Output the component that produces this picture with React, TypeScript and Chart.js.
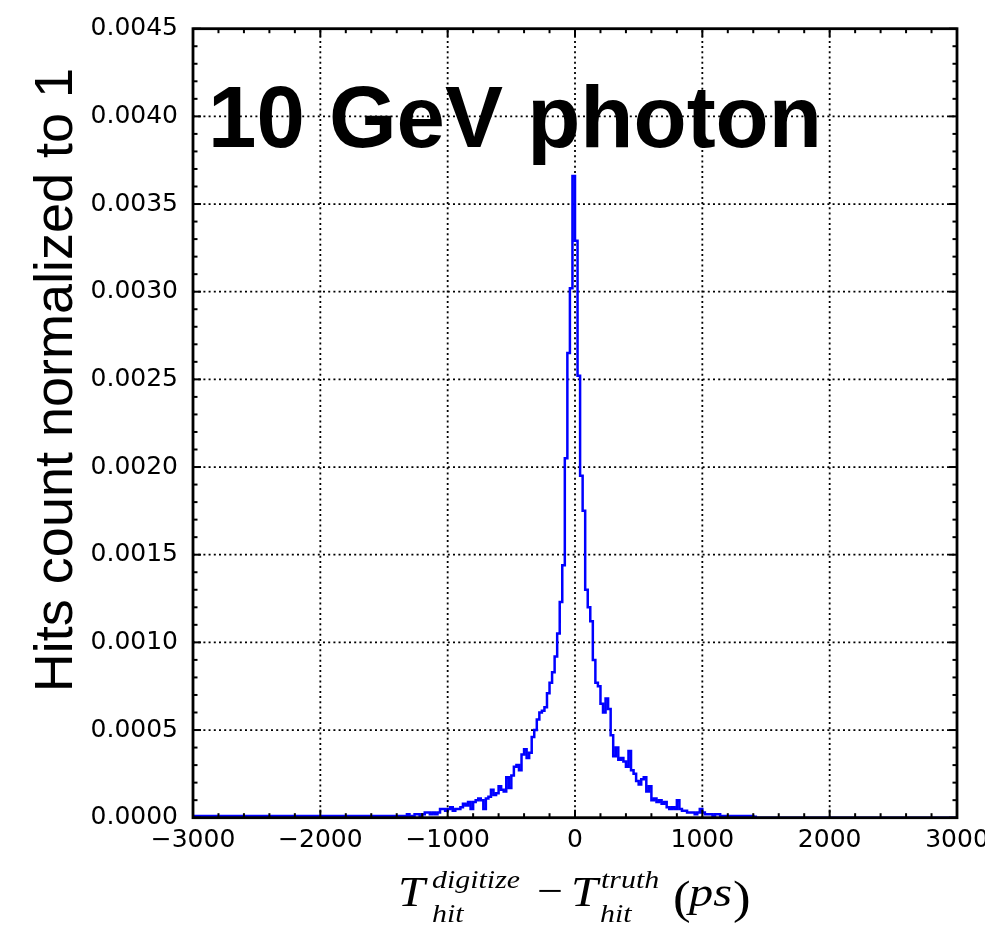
import React, { useEffect, useRef } from 'react';
import { Chart, registerables } from 'chart.js';

Chart.register(...registerables);

// ---- data (20 ps bins, density normalised) ----
const binWidth = 20;
const firstBinEdge = -1380;
// bins from -1380 to 0 (left edge)
const leftCounts = [
  0.00001, 0.00001, 0.00001, 0.00001, 0.00002, 0.00001, 0.00001, 0.00002, 0.00002, 0.00001,
  0.00002, 0.00003, 0.00003, 0.00002, 0.00003, 0.00002, 0.00003, 0.00005, 0.00005, 0.00004,
  0.00005, 0.00006, 0.00004, 0.00005, 0.00005, 0.00006, 0.00008, 0.00007, 0.00009, 0.00005,
  0.00009, 0.0001, 0.00011, 0.0001, 0.00005, 0.00011, 0.00012, 0.00016, 0.00013, 0.00014,
  0.00018, 0.00016, 0.00015, 0.00023, 0.00017, 0.00024, 0.00029, 0.0003, 0.00027, 0.00036,
  0.00039, 0.00034, 0.00037, 0.00046, 0.0005, 0.00056, 0.0006, 0.00061, 0.00063, 0.00071,
  0.00077, 0.00083, 0.00092, 0.00105, 0.00123, 0.00144, 0.00205, 0.00265, 0.00302, 0.00366,
];
// bins from 20 to 1420 (left edge)
const rightCounts = [
  0.00329, 0.00252, 0.00195, 0.00175, 0.0013, 0.0012, 0.00112, 0.0009, 0.00077, 0.00075,
  0.00065, 0.0006, 0.00068, 0.00062, 0.00047, 0.00035, 0.0004, 0.00033, 0.00034, 0.00032,
  0.00029, 0.00038, 0.00027, 0.00025, 0.00021, 0.00019, 0.00022, 0.00023, 0.00015, 0.00018,
  0.0001, 0.00011, 0.00009, 0.0001, 0.00008, 0.00009, 0.00006, 0.00005, 0.00006, 0.00005,
  0.0001, 0.00005, 0.00004, 0.00004, 0.00003, 0.00003, 0.00003, 0.00002, 0.00003, 0.00005,
  0.00003, 0.00002, 0.00002, 0.00002, 0.00001, 0.00002, 0.00002, 0.00001, 0.00001, 0.00001,
  0.00001, 0.00001, 0.00001, 0.00001, 0.00001, 0.00001, 0.00001, 0.00001, 0.00001, 0.00001,
  0.000005,
];

const xRange = [-3000, 3000];
const yRange = [0, 0.0045];
const xMajorStep = 1000;
const xMinorStep = 200;
const yMajorStep = 0.0005;
const yMinorStep = 0.0001;

const yTitle = 'Hits count normalized to 1';
const annotation = '10 GeV photon';

const fmtX = (v: number) => (v < 0 ? '\u2212' + Math.abs(v) : String(v));
const fmtY = (v: number) => v.toFixed(4);

function buildPoints() {
  const counts = [...leftCounts, ...rightCounts];
  const pts: { x: number; y: number }[] = [{ x: xRange[0], y: 0 }];
  counts.forEach((c, i) => pts.push({ x: firstBinEdge + i * binWidth, y: c }));
  pts.push({ x: firstBinEdge + counts.length * binWidth, y: 0 });
  pts.push({ x: xRange[1], y: 0 });
  return pts;
}

function range(a: number, b: number, step: number) {
  const out: number[] = [];
  const n = Math.round((b - a) / step);
  for (let i = 0; i <= n; i++) out.push(a + i * step);
  return out;
}

const framePlugin = {
  id: 'mplFrame',
  beforeDatasetsDraw(chart: any) {
    const { ctx, chartArea: a, scales } = chart;
    const x = scales.x, y = scales.y;
    ctx.save();
    ctx.strokeStyle = '#000';
    ctx.lineWidth = 1.8;
    ctx.setLineDash([2, 3.2]);
    range(xRange[0], xRange[1], xMajorStep).slice(1, -1).forEach((v) => {
      const px = x.getPixelForValue(v);
      ctx.beginPath(); ctx.moveTo(px, a.bottom); ctx.lineTo(px, a.top); ctx.stroke();
    });
    range(yRange[0], yRange[1], yMajorStep).slice(1, -1).forEach((v) => {
      const py = y.getPixelForValue(v);
      ctx.beginPath(); ctx.moveTo(a.left, py); ctx.lineTo(a.right, py); ctx.stroke();
    });
    ctx.restore();
  },
  afterDatasetsDraw(chart: any) {
    const { ctx, chartArea: a, scales } = chart;
    const x = scales.x, y = scales.y;
    ctx.save();
    ctx.strokeStyle = '#000';
    ctx.setLineDash([]);
    ctx.lineWidth = 2;
    const tick = (x1: number, y1: number, x2: number, y2: number) => {
      ctx.beginPath(); ctx.moveTo(x1, y1); ctx.lineTo(x2, y2); ctx.stroke();
    };
    range(xRange[0], xRange[1], xMinorStep).forEach((v) => {
      const major = Math.abs(v % xMajorStep) < 1e-9;
      const L = major ? 8 : 4.5;
      const px = x.getPixelForValue(v);
      tick(px, a.bottom, px, a.bottom - L);
      tick(px, a.top, px, a.top + L);
    });
    range(yRange[0], yRange[1], yMinorStep).forEach((v, i) => {
      const major = i % 5 === 0;
      const L = major ? 8 : 4.5;
      const py = y.getPixelForValue(v);
      tick(a.left, py, a.left + L, py);
      tick(a.right, py, a.right - L, py);
    });
    ctx.lineWidth = 2.8;
    ctx.strokeRect(a.left, a.top, a.right - a.left, a.bottom - a.top);
    ctx.restore();
  },
  afterDraw(chart: any) {
    const { ctx } = chart;
    ctx.save();
    ctx.fillStyle = '#000';
    // annotation
    ctx.font = 'bold 87px "Liberation Sans", Arial, sans-serif';
    ctx.textAlign = 'left';
    ctx.textBaseline = 'alphabetic';
    ctx.fillText(annotation, 208, 147);

    // y title
    ctx.save();
    ctx.translate(72, 380);
    ctx.rotate(-Math.PI / 2);
    ctx.font = '54px "Liberation Sans", Arial, sans-serif';
    ctx.textAlign = 'center';
    ctx.fillText(yTitle, 0, 0);
    ctx.restore();

    // x title (math-like)
    const it = (size: number) => `italic ${size}px "Liberation Serif", serif`;
    const rm = (size: number) => `${size}px "Liberation Serif", serif`;
    const put = (text: string, font: string, px: number, py: number) => {
      ctx.save();
      ctx.font = font;
      ctx.translate(px, py);
      ctx.scale(1.15, 1);
      ctx.fillText(text, 0, 0);
      ctx.restore();
    };
    put('T', it(42), 398, 906);
    put('digitize', it(26), 432, 888);
    put('hit', it(26), 432, 922);
    put('\u2212', rm(40), 537, 904);
    put('T', it(42), 571, 906);
    put('truth', it(26), 601, 888);
    put('hit', it(26), 600, 922);
    put('(', rm(46), 673, 913);
    put('ps', it(42), 689, 906);
    put(')', rm(46), 733, 913);
    ctx.restore();
  },
};

export default function App() {
  const ref = useRef<HTMLCanvasElement | null>(null);
  useEffect(() => {
    if (!ref.current) return;
    const chart = new Chart(ref.current, {
      type: 'line',
      data: {
        datasets: [
          {
            data: buildPoints(),
            stepped: 'after',
            borderColor: '#0000ff',
            borderWidth: 2.5,
            pointRadius: 0,
            fill: false,
          },
        ],
      },
      options: {
        responsive: false,
        animation: false,
        devicePixelRatio: 1,
        layout: { autoPadding: false, padding: { left: 0, right: 28, top: 28.7, bottom: 0 } },
        plugins: { legend: { display: false }, tooltip: { enabled: false } },
        scales: {
          x: {
            type: 'linear',
            min: xRange[0],
            max: xRange[1],
            grid: { display: false, drawTicks: false },
            border: { display: false },
            ticks: {
              stepSize: xMajorStep,
              autoSkip: false,
              maxRotation: 0,
              padding: 8,
              color: '#000',
              font: { family: '"DejaVu Sans", sans-serif', size: 25 },
              callback: (v: any) => fmtX(Number(v)),
            },
            afterFit: (s: any) => { s.height = 109.3; s.paddingLeft = 0; s.paddingRight = 0; },
          },
          y: {
            min: yRange[0],
            max: yRange[1],
            grid: { display: false, drawTicks: false },
            border: { display: false },
            ticks: {
              stepSize: yMajorStep,
              autoSkip: false,
              padding: 15,
              color: '#000',
              font: { family: '"DejaVu Sans", sans-serif', size: 25 },
              callback: (v: any) => fmtY(Number(v)),
            },
            afterFit: (s: any) => { s.width = 193; s.paddingTop = 0; s.paddingBottom = 0; },
          },
        },
      },
      plugins: [framePlugin],
    });
    return () => chart.destroy();
  }, []);
  return (
    <div style={{ position: 'fixed', left: 0, top: 0, width: 985, height: 927, background: '#fff' }}>
      <canvas ref={ref} width={985} height={927} />
    </div>
  );
}
